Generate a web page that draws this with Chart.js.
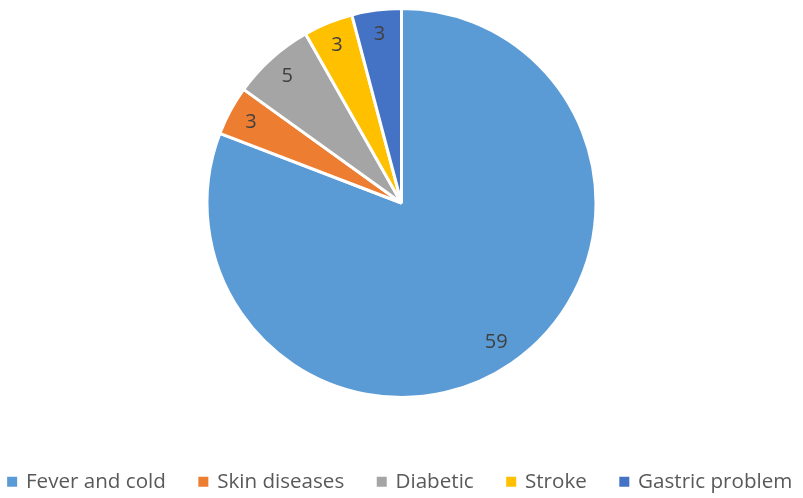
<!DOCTYPE html>
<html>
<head>
<meta charset="utf-8">
<script src="https://cdn.jsdelivr.net/npm/chart.js@4/dist/chart.umd.min.js"></script>
<style>
  html, body { margin: 0; padding: 0; background: #fff; }
  #wrap { width: 803px; height: 498px; }
</style>
</head>
<body>
<div id="wrap"><canvas id="pie-chart"></canvas></div>
<script>
let categories = ["Fever and cold", "Skin diseases", "Diabetic", "Stroke", "Gastric problem"]
let counts = [59, 3, 5, 3, 3]
let sliceColors = ["#5B9BD5", "#ED7D31", "#A5A5A5", "#FFC000", "#4472C4"]

// value labels inside slices
const sliceLabels = {
    id: 'sliceLabels',
    afterDatasetsDraw(chart) {
        const ctx = chart.ctx
        const meta = chart.getDatasetMeta(0)
        ctx.save()
        ctx.font = '20px "Open Sans", sans-serif'
        ctx.fillStyle = '#404040'
        ctx.textAlign = 'center'
        ctx.textBaseline = 'middle'
        meta.data.forEach((arc, i) => {
            const mid = (arc.startAngle + arc.endAngle) / 2
            const r = arc.outerRadius * (counts[i] > 10 ? 0.86 : 0.88)
            ctx.fillText(counts[i], arc.x + Math.cos(mid) * r, arc.y + Math.sin(mid) * r + 1)
        })
        ctx.restore()
    }
}

new Chart(document.getElementById("pie-chart"), {
    type: 'pie',
    data: {
        labels: categories,
        datasets: [{
            data: counts,
            backgroundColor: sliceColors,
            borderColor: '#ffffff',
            borderWidth: 3
        }]
    },
    options: {
        responsive: true,
        maintainAspectRatio: false,
        animation: false,
        // negative sides so the one-row legend does not wrap
        layout: { padding: { top: 7, bottom: -4, left: -31, right: -29 } },
        plugins: {
            tooltip: { enabled: false },
            legend: {
                position: 'bottom',
                title: { display: true, text: '', padding: { top: 24, bottom: 0 } },
                labels: {
                    usePointStyle: true,
                    pointStyle: 'rect',
                    boxWidth: 7,
                    boxHeight: 13,
                    padding: 34,
                    color: '#595959',
                    font: { family: '"Open Sans", sans-serif', size: 20.6 }
                }
            }
        }
    },
    plugins: [sliceLabels]
});
</script>
</body>
</html>
